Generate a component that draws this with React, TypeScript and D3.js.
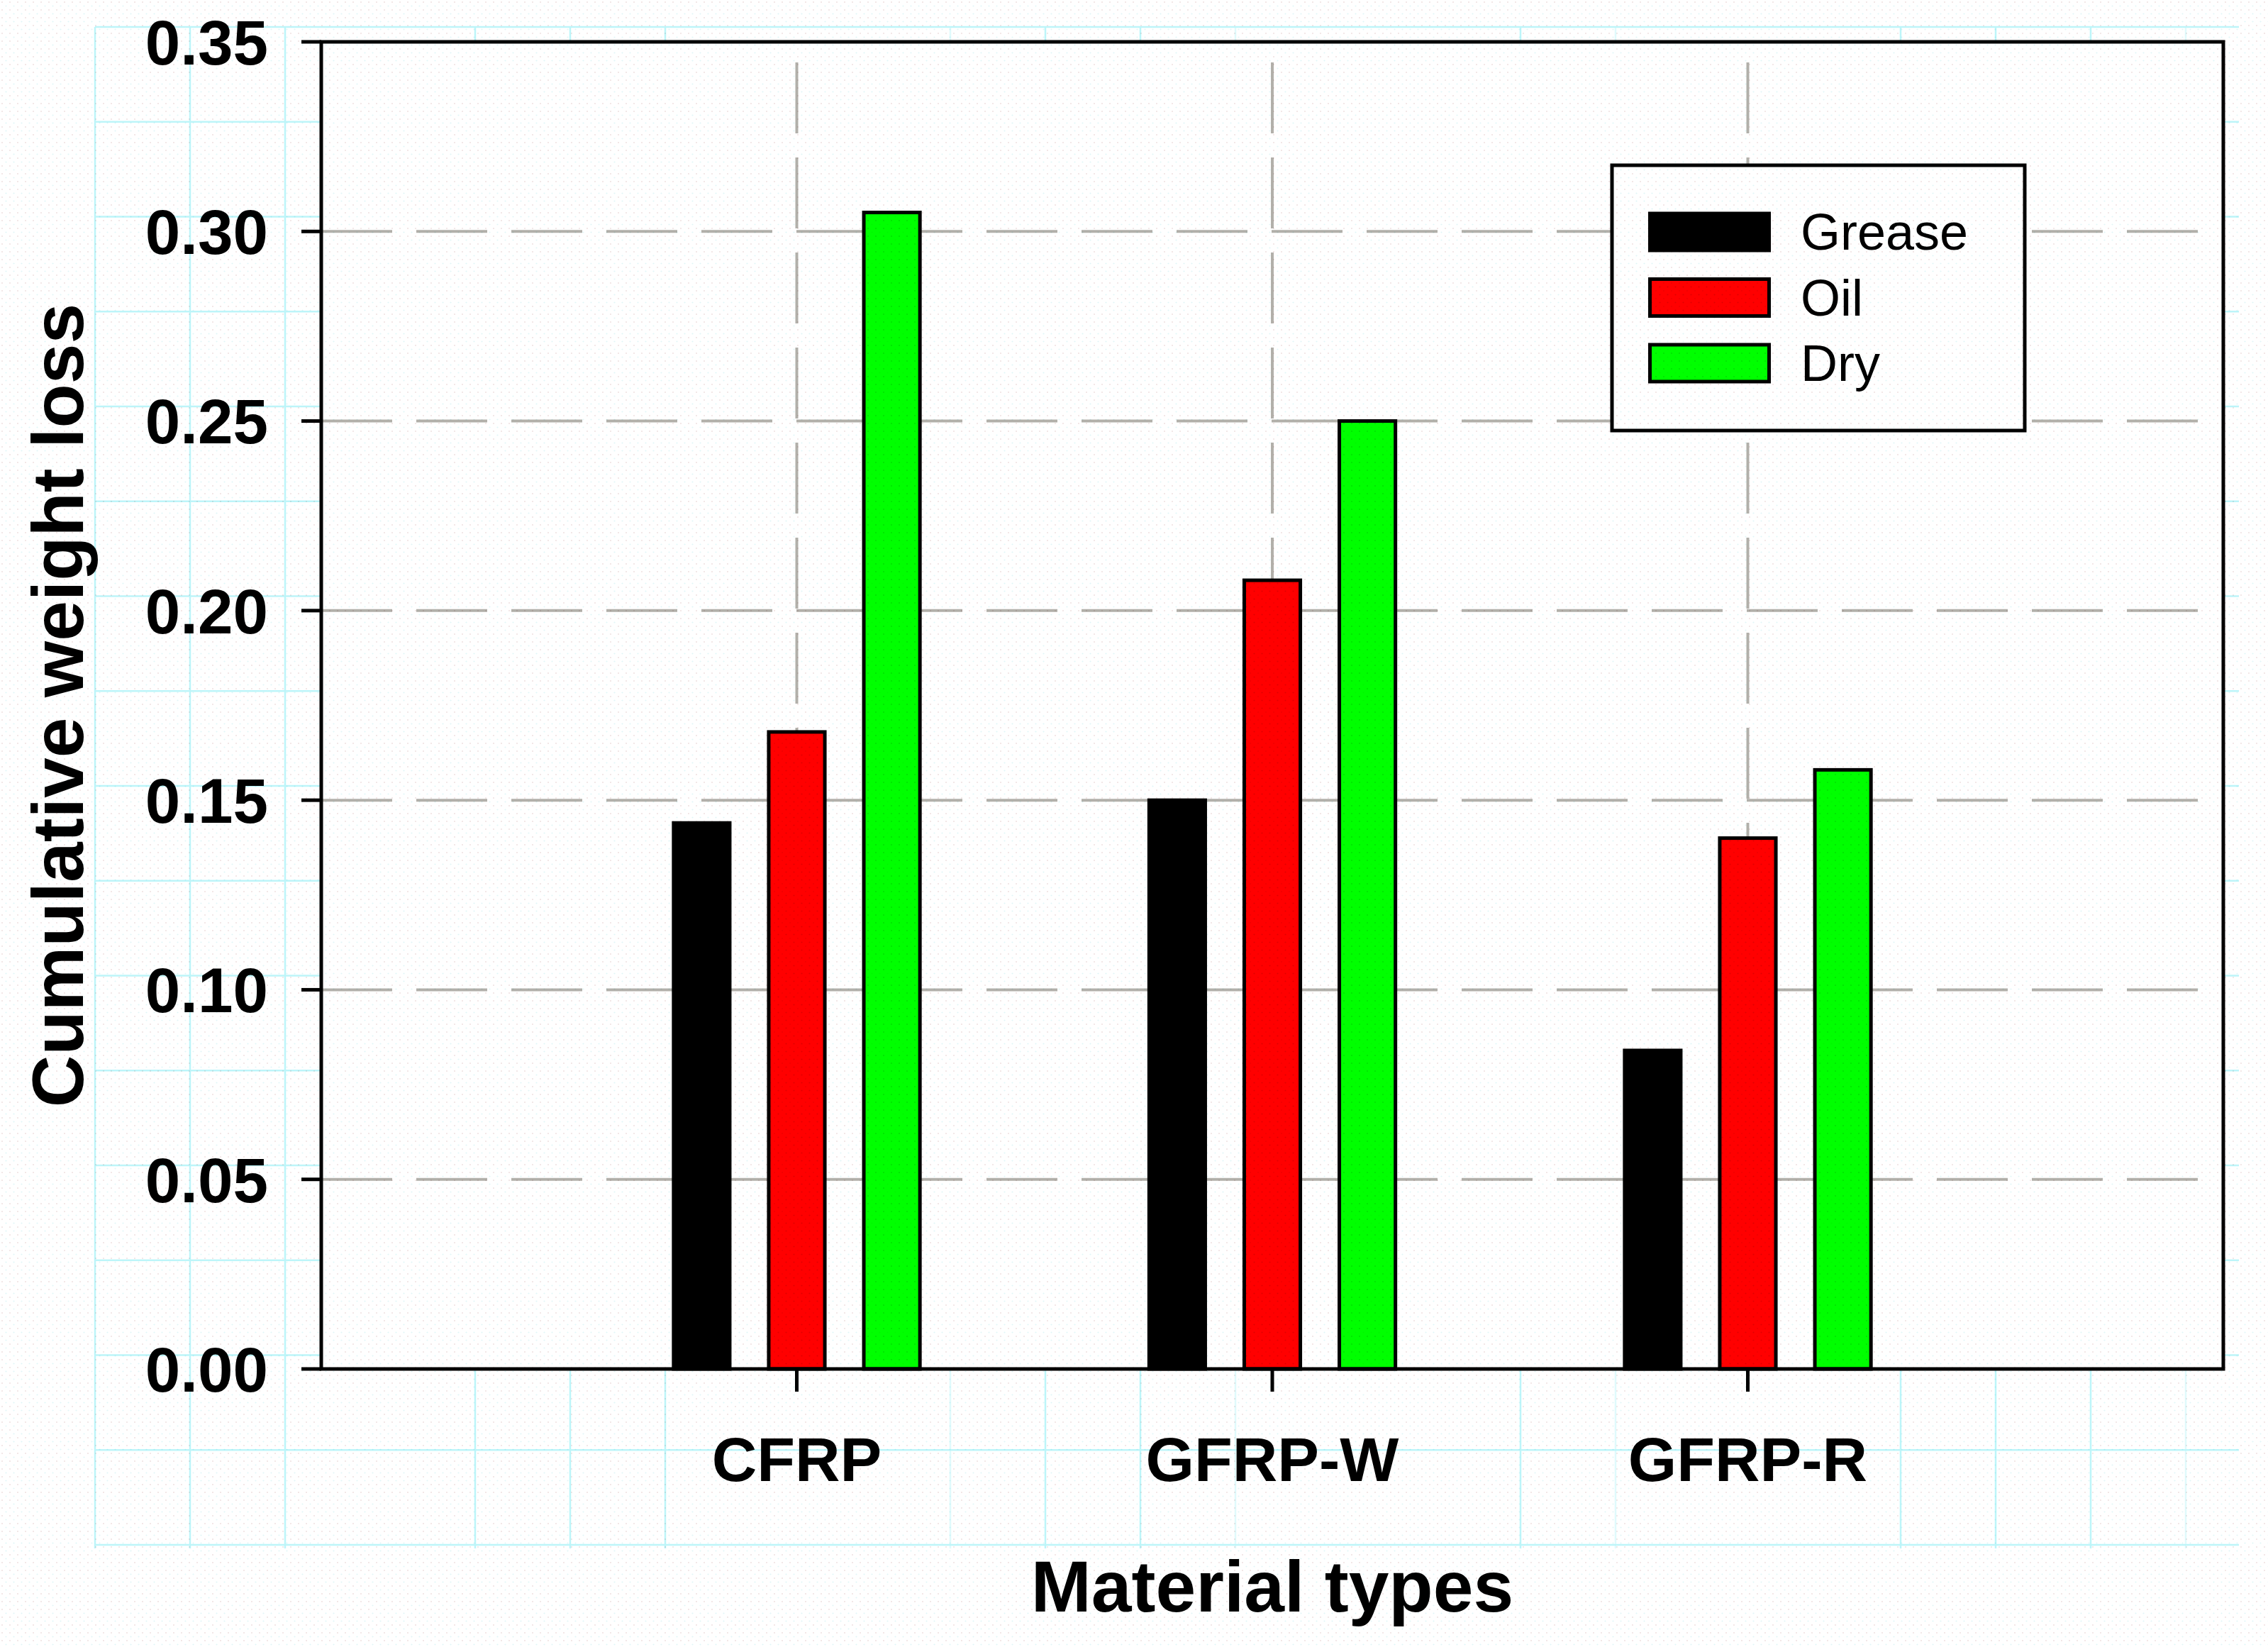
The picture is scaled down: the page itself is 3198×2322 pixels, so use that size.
import React from "react";
import * as d3 from "d3";

const categories = ["CFRP", "GFRP-W", "GFRP-R"];
const seriesNames = ["Grease", "Oil", "Dry"];
const seriesColors = ["#000000", "#ff0000", "#00ff00"];
const greaseValues = [0.144, 0.150, 0.084];
const oilValues = [0.168, 0.208, 0.140];
const dryValues = [0.305, 0.250, 0.158];
const yTickValues = [0, 0.05, 0.1, 0.15, 0.2, 0.25, 0.3, 0.35];
const yGridValues = [0.05, 0.1, 0.15, 0.2, 0.25, 0.3];
const xPositions = [1, 2, 3];
const xTitle = "Material types";
const yTitle = "Cumulative weight loss";

// page-grid columns that are visible in the reference (others vanished in resampling)
const pageGridCols = [1, 2, 3, 5, 6, 7, 10, 11, 12, 13, 16, 17, 20, 21, 22, 23];
const pageGridFaintCols = [10, 13, 17, 23];

const W = 3198;
const H = 2322;
const FONT = "'Liberation Sans', Arial, Helvetica, sans-serif";

export default function App() {
  const seriesValues = [greaseValues, oilValues, dryValues];
  const x = d3.scaleLinear().domain([0, 4]).range([453, 3135]);
  const y = d3.scaleLinear().domain([0, 0.35]).range([1930, 59]);
  const fmt = d3.format(".2f");
  const barOffsets = [-0.2, 0, 0.2];
  const barW = 0.118;
  const gridColor = "#b2b0aa";
  const cyan = "#bdf5f9";
  const cyanFaint = "#e0fafc";

  const cyanH = d3.range(0, 17).map((k) => 38 + k * 133.75);

  return (
    <svg
      width={W}
      height={H}
      viewBox={`0 0 ${W} ${H}`}
      style={{ position: "absolute", left: 0, top: 0, display: "block", background: "#ffffff" }}
    >
      <defs>
        <pattern id="dots" width="11" height="11" patternUnits="userSpaceOnUse">
          <circle cx="3" cy="3" r="1.1" fill="#e3c9c9" />
          <circle cx="8.5" cy="8.5" r="1.1" fill="#c9eef2" />
        </pattern>
      </defs>
      <rect x={0} y={0} width={W} height={H} fill="#ffffff" />
      {/* page grid */}
      <g strokeWidth={2.5}>
        {pageGridCols.map((k) => (
          <line
            key={"cv" + k}
            x1={k * 134}
            x2={k * 134}
            y1={38}
            y2={2183}
            stroke={pageGridFaintCols.includes(k) ? cyanFaint : cyan}
          />
        ))}
        {cyanH.map((v) => (
          <line key={"ch" + v} x1={134} x2={3157} y1={v} y2={v} stroke={cyan} />
        ))}
      </g>

      {/* plot area */}
      <rect x={x(0)} y={y(0.35)} width={x(4) - x(0)} height={y(0) - y(0.35)} fill="#ffffff" />

      {/* dashed grid */}
      <g stroke={gridColor} strokeWidth={4} strokeDasharray="100 34" fill="none">
        {yGridValues.map((v) => (
          <line key={"gy" + v} x1={x(0)} x2={x(4)} y1={y(v)} y2={y(v)} />
        ))}
        {xPositions.map((v) => (
          <line key={"gx" + v} x1={x(v)} x2={x(v)} y1={y(0)} y2={y(0.35)} />
        ))}
      </g>

      {/* bars */}
      {seriesValues.map((vals, si) => (
        <g key={"s" + si}>
          {vals.map((v, ci) => {
            const xc = xPositions[ci] + barOffsets[si];
            const x0 = x(xc - barW / 2);
            const x1 = x(xc + barW / 2);
            return (
              <rect
                key={"b" + si + "-" + ci}
                x={x0}
                y={y(v)}
                width={x1 - x0}
                height={y(0) - y(v)}
                fill={seriesColors[si]}
                stroke="#000"
                strokeWidth={5}
              />
            );
          })}
        </g>
      ))}

      {/* frame */}
      <rect
        x={x(0)}
        y={y(0.35)}
        width={x(4) - x(0)}
        height={y(0) - y(0.35)}
        fill="none"
        stroke="#000"
        strokeWidth={5}
      />

      {/* y ticks & labels */}
      <g>
        {yTickValues.map((v) => (
          <g key={"yt" + v}>
            <line x1={x(0) - 28} x2={x(0)} y1={y(v)} y2={y(v)} stroke="#000" strokeWidth={5} />
            <text
              x={378}
              y={y(v)}
              dy="0.358em"
              textAnchor="end"
              fontFamily={FONT}
              fontWeight="bold"
              fontSize={89}
              fill="#000"
            >
              {fmt(v)}
            </text>
          </g>
        ))}
      </g>

      {/* x ticks & labels */}
      <g>
        {xPositions.map((v, i) => (
          <g key={"xt" + v}>
            <line x1={x(v)} x2={x(v)} y1={y(0)} y2={y(0) + 32} stroke="#000" strokeWidth={5} />
            <text
              x={x(v)}
              y={2088}
              textAnchor="middle"
              fontFamily={FONT}
              fontWeight="bold"
              fontSize={88}
              fill="#000"
            >
              {categories[i]}
            </text>
          </g>
        ))}
      </g>

      {/* axis titles */}
      <text
        x={(x(0) + x(4)) / 2}
        y={2272}
        textAnchor="middle"
        fontFamily={FONT}
        fontWeight="bold"
        fontSize={102}
        fill="#000"
      >
        {xTitle}
      </text>
      <text
        transform={`translate(117, ${(y(0) + y(0.35)) / 2}) rotate(-90)`}
        textAnchor="middle"
        fontFamily={FONT}
        fontWeight="bold"
        fontSize={102}
        fill="#000"
      >
        {yTitle}
      </text>

      {/* legend */}
      <g>
        <rect x={2273} y={233} width={582} height={374} fill="#ffffff" stroke="#000" strokeWidth={5} />
        {seriesNames.map((name, i) => {
          const top = 301 + i * 92.5;
          return (
            <g key={"lg" + name}>
              <rect
                x={2326.5}
                y={top}
                width={168}
                height={52}
                fill={seriesColors[i]}
                stroke="#000"
                strokeWidth={5}
              />
              <text x={2539} y={top + 51} fontFamily={FONT} fontSize={72} fill="#000">
                {name}
              </text>
            </g>
          );
        })}
      </g>

      {/* print texture */}
      <rect
        x={0}
        y={0}
        width={W}
        height={H}
        fill="url(#dots)"
        opacity={0.55}
        style={{ mixBlendMode: "multiply", pointerEvents: "none" }}
      />
    </svg>
  );
}
